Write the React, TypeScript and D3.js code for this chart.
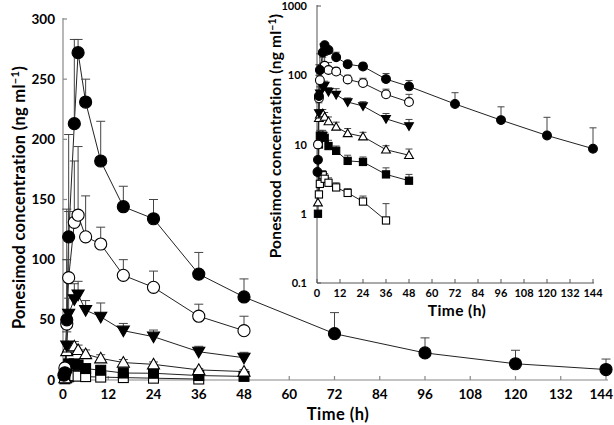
import React from "react";
import * as d3 from "d3";

// ---- data ----
const xTicks = [0, 12, 24, 36, 48, 60, 72, 84, 96, 108, 120, 132, 144];
const yTicksMain = [0, 50, 100, 150, 200, 250, 300];
const yTicksLog = [0.1, 1, 10, 100, 1000];

// filled circle
const fcT = [0.25, 0.5, 1, 1.5, 3, 4, 6, 10, 16, 24, 36, 48, 72, 96, 120, 144];
const fcV = [4, 6, 50, 119, 213, 272, 231, 182, 144, 134, 88, 69, 38.5, 22.5, 13.5, 8.7];
const fcE = [null, null, 142, 204, 283, 283, 250, 215, 161, 150, 106, 84, 56, 35, 24.7, 17.4];
// open circle
const ocT = [0.5, 1, 1.5, 3, 4, 6, 10, 16, 24, 36, 48];
const ocV = [10, 46.5, 85, 131, 137, 119, 113, 87, 77, 53, 41];
const ocE = [null, 100, 140, 182, 194, 153, 127, 100, 90.5, 63, 53];
// filled down-triangle
const dtT = [1, 1.5, 3, 4, 6, 10, 16, 24, 36, 48];
const dtV = [28.5, 55, 67, 71, 58, 52.5, 41, 36, 23.5, 18.5];
const dtE = [40, 68, 80, 82, 66, 64, 47, 41.5, 28, 23];
// open up-triangle
const utT = [0.5, 1, 1.5, 3, 4, 6, 10, 16, 24, 36, 48];
const utV = [1.45, 24, 27, 28, 25, 21.5, 18, 14.5, 13, 8.4, 7];
const utE = [null, 30, 32, 32, 29, 25, 21, 17, 15, 9.6, 8.6];
// filled square
const fsT = [0.5, 1, 1.5, 3, 4, 6, 10, 16, 24, 36, 48];
const fsV = [1, 10, 13.4, 13.4, 12.5, 9.5, 8.1, 5.8, 5.6, 3.7, 3.0];
const fsE = [null, null, 16, 16, 15, 11.5, 9.5, 7, 6.6, 4.6, 3.7];
// open square
const osT = [1, 1.5, 3, 4, 6, 10, 16, 24, 36];
const osV = [1.9, 2.7, 3.6, 3.2, 2.8, 2.4, 2.0, 1.5, 0.8];
const osE = [null, 3.4, 4.2, 3.8, 3.3, 2.8, 2.3, 1.8, 1.4];

type Series = { t: number[]; v: number[]; e: (number | null)[]; shape: string; filled: boolean };
const seriesList: Series[] = [
  { t: osT, v: osV, e: osE, shape: "square", filled: false },
  { t: fsT, v: fsV, e: fsE, shape: "square", filled: true },
  { t: utT, v: utV, e: utE, shape: "triUp", filled: false },
  { t: dtT, v: dtV, e: dtE, shape: "triDown", filled: true },
  { t: ocT, v: ocV, e: ocE, shape: "circle", filled: false },
  { t: fcT, v: fcV, e: fcE, shape: "circle", filled: true },
];

const FONT = "Lato, 'Open Sans', sans-serif";
const AX_MAIN = "#888";
const AX_IN = "#555";

function Marker({ x, y, shape, filled, s }: { x: number; y: number; shape: string; filled: boolean; s: number }) {
  const fill = filled ? "#000" : "#fff";
  const stroke = "#000";
  const sw = 1.1;
  if (shape === "circle") return <circle cx={x} cy={y} r={s * 0.55} fill={fill} stroke={stroke} strokeWidth={sw} />;
  if (shape === "square") {
    const h = s * 0.45;
    return <rect x={x - h} y={y - h} width={2 * h} height={2 * h} fill={fill} stroke={stroke} strokeWidth={sw} />;
  }
  const h = s * 0.55;
  const pts =
    shape === "triUp"
      ? [[x, y - h], [x + h, y + h * 0.75], [x - h, y + h * 0.75]]
      : [[x, y + h], [x + h, y - h * 0.75], [x - h, y - h * 0.75]];
  return <polygon points={pts.map((p) => p.join(",")).join(" ")} fill={fill} stroke={stroke} strokeWidth={sw} />;
}

function Plot({ xs, ys, size, cap }: { xs: d3.ScaleLinear<number, number>; ys: any; size: number; cap: number }) {
  const line = d3.line<[number, number]>().x((d) => xs(d[0])).y((d) => ys(d[1]));
  return (
    <g>
      {seriesList.map((s, i) => (
        <path key={"l" + i} d={line(s.t.map((t, j) => [t, s.v[j]]) as [number, number][]) || ""} fill="none" stroke="#222" strokeWidth={1} />
      ))}
      {seriesList.map((s, i) => (
        <g key={"e" + i} stroke="#444" strokeWidth={1}>
          {s.t.map((t, j) =>
            s.e[j] == null ? null : (
              <g key={j}>
                <line x1={xs(t)} x2={xs(t)} y1={ys(s.v[j])} y2={ys(s.e[j] as number)} />
                <line x1={xs(t) - cap} x2={xs(t) + cap} y1={ys(s.e[j] as number)} y2={ys(s.e[j] as number)} />
              </g>
            )
          )}
        </g>
      ))}
      {seriesList.map((s, i) => (
        <g key={"m" + i}>
          {s.t.map((t, j) => (
            <Marker key={j} x={xs(t)} y={ys(s.v[j])} shape={s.shape} filled={s.filled} s={size} />
          ))}
        </g>
      ))}
    </g>
  );
}

export default function App() {
  const xMain = d3.scaleLinear().domain([0, 144]).range([63, 606]);
  const yMain = d3.scaleLinear().domain([0, 300]).range([380, 19]);
  const xIn = d3.scaleLinear().domain([0, 144]).range([317, 593]);
  const yIn = d3.scaleLog().domain([0.1, 1000]).range([283, 6]);
  const lastTick = xTicks[xTicks.length - 1];

  return (
    <svg width={614} height={425} style={{ position: "absolute", left: 0, top: 0, background: "#fff" }} fontFamily={FONT} fontWeight={700}>
      <rect width={614} height={425} fill="#fff" />
      {/* main axes */}
      <g stroke={AX_MAIN} strokeWidth={1.2}>
        <line x1={63} x2={63} y1={yMain(300) - 1} y2={380} />
        <line x1={63} x2={608} y1={380} y2={380} />
        {yTicksMain.map((v) => (
          <line key={v} x1={63} x2={67} y1={yMain(v)} y2={yMain(v)} />
        ))}
        {xTicks.map((v) => (
          <line key={v} x1={xMain(v)} x2={xMain(v)} y1={380} y2={376} />
        ))}
      </g>
      {yTicksMain.map((v) => (
        <text key={v} x={55} y={yMain(v) + 4.5} textAnchor="end" fontSize={13.5}>
          {v}
        </text>
      ))}
      {xTicks.map((v) =>
        v === lastTick ? (
          <text key={v} x={613} y={399} textAnchor="end" fontSize={13.5}>
            {v}
          </text>
        ) : (
          <text key={v} x={xMain(v)} y={399} textAnchor="middle" fontSize={13.5}>
            {v}
          </text>
        )
      )}
      <text x={338} y={420} textAnchor="middle" fontSize={16.5} letterSpacing={0.5}>
        Time (h)
      </text>
      <text transform="translate(25,197.5) rotate(-90)" textAnchor="middle" fontSize={16.5} letterSpacing={0.3}>
        Ponesimod concentration (ng ml
        <tspan dy={-6} fontSize={11}>−1</tspan>
        <tspan dy={6}>)</tspan>
      </text>
      <Plot xs={xMain} ys={yMain} size={11} cap={4.5} />

      {/* inset axes */}
      <g stroke={AX_IN} strokeWidth={1}>
        <line x1={317} x2={317} y1={5} y2={283} />
        <line x1={317} x2={594} y1={283} y2={283} />
        {yTicksLog.map((v) => (
          <line key={v} x1={317} x2={321} y1={yIn(v)} y2={yIn(v)} />
        ))}
        {xTicks.map((v) => (
          <line key={v} x1={xIn(v)} x2={xIn(v)} y1={283} y2={279} />
        ))}
      </g>
      {yTicksLog.map((v) => (
        <text key={v} x={307} y={yIn(v) + 4} textAnchor="end" fontSize={11}>
          {v}
        </text>
      ))}
      {xTicks.map((v) => (
        <text key={v} x={xIn(v)} y={297} textAnchor="middle" fontSize={11}>
          {v}
        </text>
      ))}
      <text x={457} y={316} textAnchor="middle" fontSize={15.5} letterSpacing={0.4}>
        Time (h)
      </text>
      <text transform="translate(281,136) rotate(-90)" textAnchor="middle" fontSize={15.5} letterSpacing={0.2}>
        Ponesimod concentration (ng ml
        <tspan dy={-5} fontSize={10.5}>−1</tspan>
        <tspan dy={5}>)</tspan>
      </text>
      <Plot xs={xIn} ys={yIn} size={8} cap={3.5} />
    </svg>
  );
}
